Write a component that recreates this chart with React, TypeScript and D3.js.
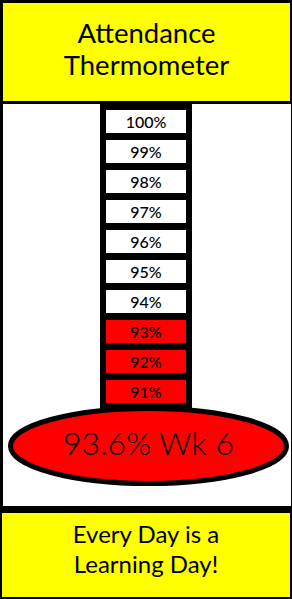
import React from "react";
import * as d3 from "d3";

const titleLines = ["Attendance", "Thermometer"];
const footerLines = ["Every Day is a", "Learning Day!"];
const levels = [100, 99, 98, 97, 96, 95, 94, 93, 92, 91];
const attendance = 93.6;
const weekLabel = "Wk 6";

const W = 292;
const H = 599;

export default function App() {
  const y = d3
    .scaleBand<number>()
    .domain(levels)
    .range([106.5, 406.5])
    .paddingInner(7 / 30)
    .paddingOuter(3.5 / 30);
  const bw = y.bandwidth();
  const font = "Lato, 'Liberation Sans', Arial, sans-serif";
  return (
    <svg
      width={W}
      height={H}
      style={{ position: "absolute", left: 0, top: 0, display: "block" }}
    >
      <rect x={0} y={0} width={W} height={H} fill="#000" />
      <rect x={3} y={3} width={287} height={98} fill="#ffff00" />
      <rect x={3} y={104} width={288} height={402} fill="#fff" />
      <rect x={2} y={513} width={288} height={84} fill="#ffff00" />

      {titleLines.map((t, i) => (
        <text
          key={t}
          x={146.5}
          y={43 + i * 32}
          textAnchor="middle"
          fontFamily={font}
          fontSize={27.5}
          fill="#000"
        >
          {t}
        </text>
      ))}

      <rect x={100} y={101} width={92} height={320} fill="#000" />
      {levels.map((lv) => (
        <g key={lv}>
          <rect
            x={106}
            y={y(lv)}
            width={80}
            height={bw}
            fill={lv <= attendance ? "#ff0000" : "#ffffff"}
          />
          <text
            x={146}
            y={(y(lv) as number) + bw / 2 + 6}
            textAnchor="middle"
            fontFamily={font}
            fontSize={16}
            fontWeight={500}
            fill="#000"
          >
            {lv}%
          </text>
        </g>
      ))}

      <ellipse
        cx={148.5}
        cy={446}
        rx={138}
        ry={37.5}
        fill="#ff0000"
        stroke="#000"
        strokeWidth={5}
      />
      <text
        x={148.5}
        y={455}
        textAnchor="middle"
        fontFamily={font}
        fontSize={32}
        fontWeight={300}
        fill="#000"
      >
        {`${attendance}% ${weekLabel}`}
      </text>

      {footerLines.map((t, i) => (
        <text
          key={t}
          x={146}
          y={543 + i * 30}
          textAnchor="middle"
          fontFamily={font}
          fontSize={24}
          fill="#000"
        >
          {t}
        </text>
      ))}
    </svg>
  );
}
